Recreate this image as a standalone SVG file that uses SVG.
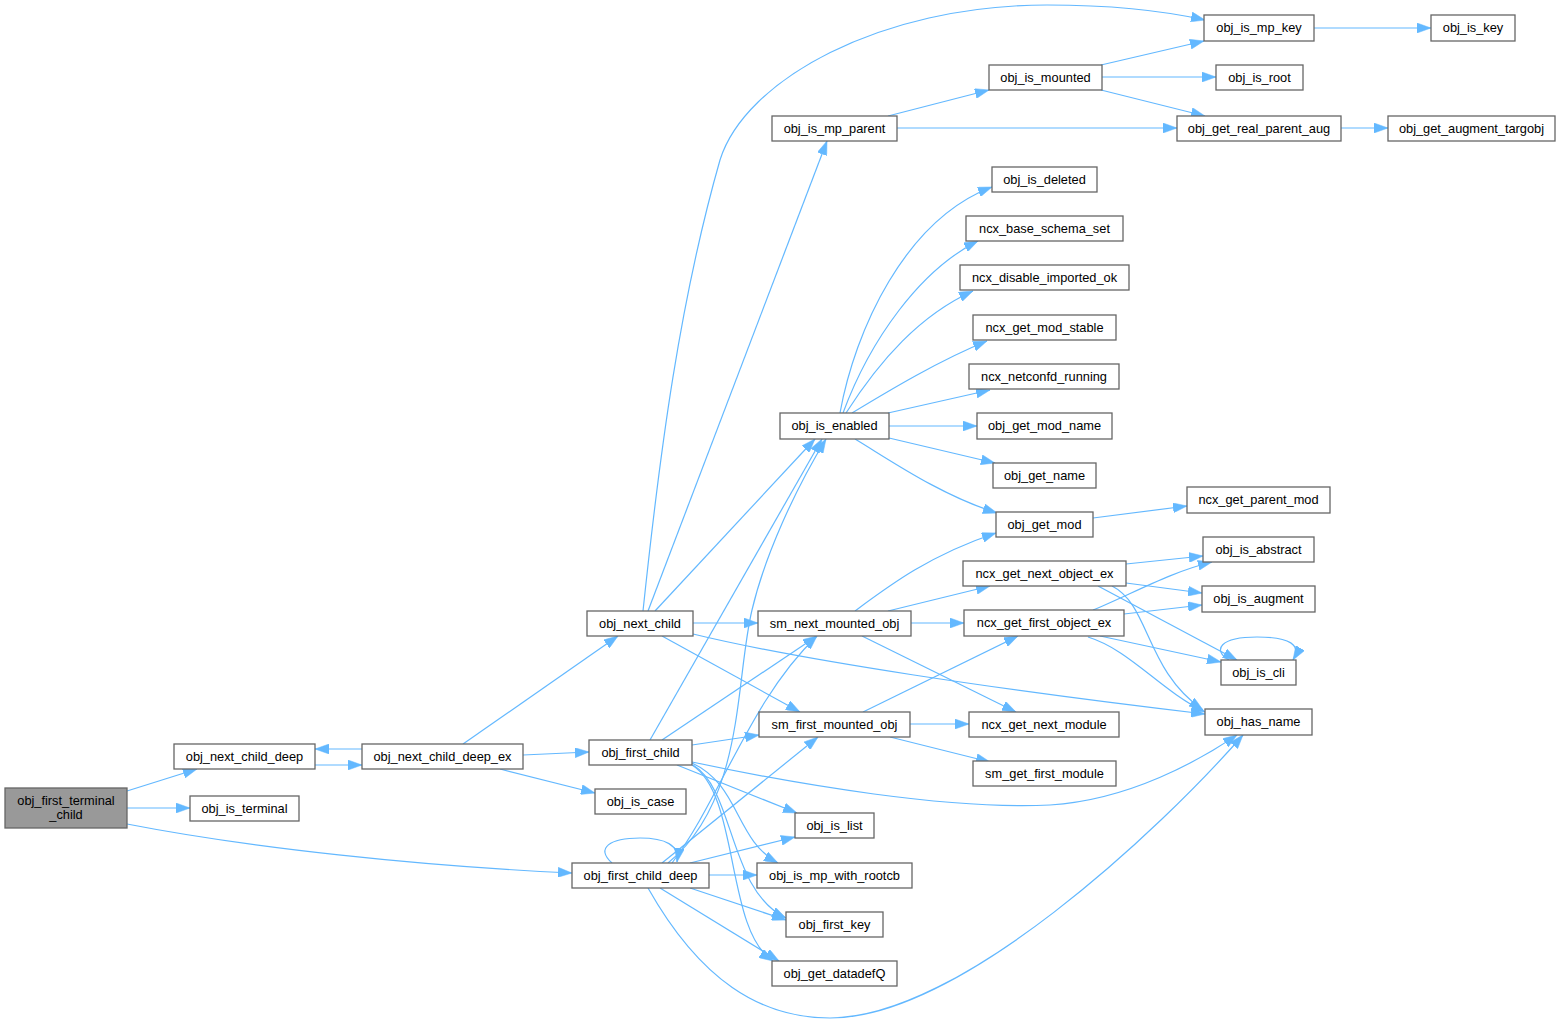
<svg xmlns="http://www.w3.org/2000/svg" width="1560" height="1024" viewBox="0 0 1560 1024">
<style>
.n rect{fill:#ffffff;stroke:#666666;stroke-width:1.3}
.n.root rect{fill:#999999}
.n text{font-family:"Liberation Sans",Arial,sans-serif;font-size:12.8px;fill:#000000;text-anchor:middle}
#edges path{fill:none;stroke:#63b8ff;stroke-width:1.2;marker-end:url(#ah)}
</style>
<defs>
<marker id="ah" viewBox="0 0 14 10" refX="14" refY="5" markerWidth="14" markerHeight="10" orient="auto" markerUnits="userSpaceOnUse">
<path d="M0,0 L14,5 L0,10 z" fill="#63b8ff" stroke="#63b8ff" stroke-width="0.5"/>
</marker>
</defs>
<rect width="1560" height="1024" fill="#ffffff"/>
<g id="edges">
<path d="M127,791 L197,769"/>
<path d="M127,808 L190,808"/>
<path d="M127,824 C250,848 420,866 572,873"/>
<path d="M315,765 L362,765"/>
<path d="M362,749 L315,749"/>
<path d="M463,744 L618,636"/>
<path d="M523,755 L589,752"/>
<path d="M500,769 L595,793"/>
<path d="M643,611 C660,450 680,300 720,160 C745,80 880,5 1047,5 C1110,5 1160,10 1205,20"/>
<path d="M648,611 L827,141"/>
<path d="M655,611 L815,439"/>
<path d="M693,623 L758,623"/>
<path d="M662,636 L800,712"/>
<path d="M693,634 C800,660 1000,690 1205,714"/>
<path d="M650,740 L822,439"/>
<path d="M662,740 L817,636"/>
<path d="M692,745 L759,735"/>
<path d="M692,762 C800,785 950,810 1050,805 C1130,800 1200,760 1237,735"/>
<path d="M677,765 L797,813"/>
<path d="M692,763 C740,785 735,840 778,863"/>
<path d="M693,765 C735,790 728,890 786,918"/>
<path d="M692,765 C740,795 725,930 773,961"/>
<path d="M612,863 C595,848 610,838 640,838 C665,838 680,845 677,862"/>
<path d="M668,863 C745,800 735,680 752,610 C765,555 795,490 826,439"/>
<path d="M672,863 C720,800 750,700 817,636"/>
<path d="M662,863 L818,737"/>
<path d="M690,863 L795,837"/>
<path d="M709,875 L757,875"/>
<path d="M690,888 L786,920"/>
<path d="M660,888 L779,961"/>
<path d="M648,888 C700,980 760,1018 830,1018 C960,1018 1160,830 1243,735"/>
<path d="M855,611 C890,585 930,555 996,533"/>
<path d="M888,611 L990,586"/>
<path d="M911,623 L964,623"/>
<path d="M862,636 L1016,712"/>
<path d="M863,712 L1018,636"/>
<path d="M910,724 L969,724"/>
<path d="M890,737 L990,762"/>
<path d="M840,413 C855,330 905,220 992,187"/>
<path d="M843,413 C870,340 920,270 978,241"/>
<path d="M846,413 C880,360 920,315 973,291"/>
<path d="M852,413 C890,390 940,360 987,341"/>
<path d="M888,413 L990,390"/>
<path d="M889,426 L977,426"/>
<path d="M889,438 L995,463"/>
<path d="M855,439 C890,460 940,495 997,513"/>
<path d="M888,116 L989,90"/>
<path d="M897,128 L1177,128"/>
<path d="M1101,65 L1204,41"/>
<path d="M1102,77 L1216,77"/>
<path d="M1101,90 L1205,116"/>
<path d="M1314,28 L1431,28"/>
<path d="M1341,128 L1388,128"/>
<path d="M1093,518 L1187,506"/>
<path d="M1126,564 L1203,556"/>
<path d="M1126,583 L1202,593"/>
<path d="M1098,586 L1237,660"/>
<path d="M1112,586 C1150,605 1145,670 1203,710"/>
<path d="M1093,610 C1130,595 1170,572 1212,562"/>
<path d="M1124,614 L1202,605"/>
<path d="M1100,636 L1221,662"/>
<path d="M1088,637 C1130,650 1160,690 1205,712"/>
<path d="M1229,660 C1212,650 1220,637 1257,637 C1290,637 1302,645 1293,660"/>
</g>
<g id="n_obj_first_terminal_child" class="n root"><rect x="5" y="788" width="122" height="40"/><text x="66" y="805">obj_first_terminal</text><text x="66" y="819">_child</text></g>
<g id="n_obj_next_child_deep" class="n"><rect x="174" y="744" width="141" height="25"/><text x="244.5" y="761">obj_next_child_deep</text></g>
<g id="n_obj_is_terminal" class="n"><rect x="190" y="796" width="109" height="25"/><text x="244.5" y="813">obj_is_terminal</text></g>
<g id="n_obj_next_child_deep_ex" class="n"><rect x="362" y="744" width="161" height="25"/><text x="442.5" y="761">obj_next_child_deep_ex</text></g>
<g id="n_obj_next_child" class="n"><rect x="587" y="611" width="106" height="25"/><text x="640" y="628">obj_next_child</text></g>
<g id="n_obj_first_child" class="n"><rect x="589" y="740" width="103" height="25"/><text x="640.5" y="757">obj_first_child</text></g>
<g id="n_obj_is_case" class="n"><rect x="595" y="789" width="91" height="25"/><text x="640.5" y="806">obj_is_case</text></g>
<g id="n_obj_first_child_deep" class="n"><rect x="572" y="863" width="137" height="25"/><text x="640.5" y="880">obj_first_child_deep</text></g>
<g id="n_sm_next_mounted_obj" class="n"><rect x="758" y="611" width="153" height="25"/><text x="834.5" y="628">sm_next_mounted_obj</text></g>
<g id="n_sm_first_mounted_obj" class="n"><rect x="759" y="712" width="151" height="25"/><text x="834.5" y="729">sm_first_mounted_obj</text></g>
<g id="n_obj_is_list" class="n"><rect x="795" y="813" width="79" height="25"/><text x="834.5" y="830">obj_is_list</text></g>
<g id="n_obj_is_mp_with_rootcb" class="n"><rect x="757" y="863" width="155" height="25"/><text x="834.5" y="880">obj_is_mp_with_rootcb</text></g>
<g id="n_obj_first_key" class="n"><rect x="786" y="912" width="97" height="25"/><text x="834.5" y="929">obj_first_key</text></g>
<g id="n_obj_get_datadefQ" class="n"><rect x="772" y="961" width="125" height="25"/><text x="834.5" y="978">obj_get_datadefQ</text></g>
<g id="n_obj_is_enabled" class="n"><rect x="780" y="413" width="109" height="26"/><text x="834.5" y="430">obj_is_enabled</text></g>
<g id="n_obj_is_mp_parent" class="n"><rect x="772" y="116" width="125" height="25"/><text x="834.5" y="133">obj_is_mp_parent</text></g>
<g id="n_obj_is_mounted" class="n"><rect x="989" y="65" width="113" height="25"/><text x="1045.5" y="82">obj_is_mounted</text></g>
<g id="n_obj_is_mp_key" class="n"><rect x="1204" y="15" width="110" height="26"/><text x="1259" y="32">obj_is_mp_key</text></g>
<g id="n_obj_is_key" class="n"><rect x="1431" y="15" width="84" height="26"/><text x="1473" y="32">obj_is_key</text></g>
<g id="n_obj_is_root" class="n"><rect x="1216" y="65" width="87" height="25"/><text x="1259.5" y="82">obj_is_root</text></g>
<g id="n_obj_get_real_parent_aug" class="n"><rect x="1177" y="116" width="164" height="25"/><text x="1259" y="133">obj_get_real_parent_aug</text></g>
<g id="n_obj_get_augment_targobj" class="n"><rect x="1388" y="116" width="167" height="25"/><text x="1471.5" y="133">obj_get_augment_targobj</text></g>
<g id="n_obj_is_deleted" class="n"><rect x="992" y="167" width="105" height="25"/><text x="1044.5" y="184">obj_is_deleted</text></g>
<g id="n_ncx_base_schema_set" class="n"><rect x="966" y="216" width="157" height="25"/><text x="1044.5" y="233">ncx_base_schema_set</text></g>
<g id="n_ncx_disable_imported_ok" class="n"><rect x="960" y="265" width="169" height="25"/><text x="1044.5" y="282">ncx_disable_imported_ok</text></g>
<g id="n_ncx_get_mod_stable" class="n"><rect x="973" y="315" width="143" height="25"/><text x="1044.5" y="332">ncx_get_mod_stable</text></g>
<g id="n_ncx_netconfd_running" class="n"><rect x="969" y="364" width="150" height="25"/><text x="1044" y="381">ncx_netconfd_running</text></g>
<g id="n_obj_get_mod_name" class="n"><rect x="977" y="413" width="135" height="26"/><text x="1044.5" y="430">obj_get_mod_name</text></g>
<g id="n_obj_get_name" class="n"><rect x="993" y="463" width="103" height="25"/><text x="1044.5" y="480">obj_get_name</text></g>
<g id="n_obj_get_mod" class="n"><rect x="996" y="512" width="97" height="25"/><text x="1044.5" y="529">obj_get_mod</text></g>
<g id="n_ncx_get_parent_mod" class="n"><rect x="1187" y="487" width="143" height="26"/><text x="1258.5" y="504">ncx_get_parent_mod</text></g>
<g id="n_ncx_get_next_object_ex" class="n"><rect x="963" y="561" width="163" height="25"/><text x="1044.5" y="578">ncx_get_next_object_ex</text></g>
<g id="n_ncx_get_first_object_ex" class="n"><rect x="964" y="610" width="160" height="26"/><text x="1044" y="627">ncx_get_first_object_ex</text></g>
<g id="n_obj_is_abstract" class="n"><rect x="1203" y="537" width="111" height="25"/><text x="1258.5" y="554">obj_is_abstract</text></g>
<g id="n_obj_is_augment" class="n"><rect x="1202" y="586" width="113" height="26"/><text x="1258.5" y="603">obj_is_augment</text></g>
<g id="n_obj_is_cli" class="n"><rect x="1221" y="660" width="75" height="25"/><text x="1258.5" y="677">obj_is_cli</text></g>
<g id="n_obj_has_name" class="n"><rect x="1205" y="709" width="107" height="26"/><text x="1258.5" y="726">obj_has_name</text></g>
<g id="n_ncx_get_next_module" class="n"><rect x="969" y="712" width="150" height="25"/><text x="1044" y="729">ncx_get_next_module</text></g>
<g id="n_sm_get_first_module" class="n"><rect x="973" y="761" width="143" height="25"/><text x="1044.5" y="778">sm_get_first_module</text></g>
</svg>
